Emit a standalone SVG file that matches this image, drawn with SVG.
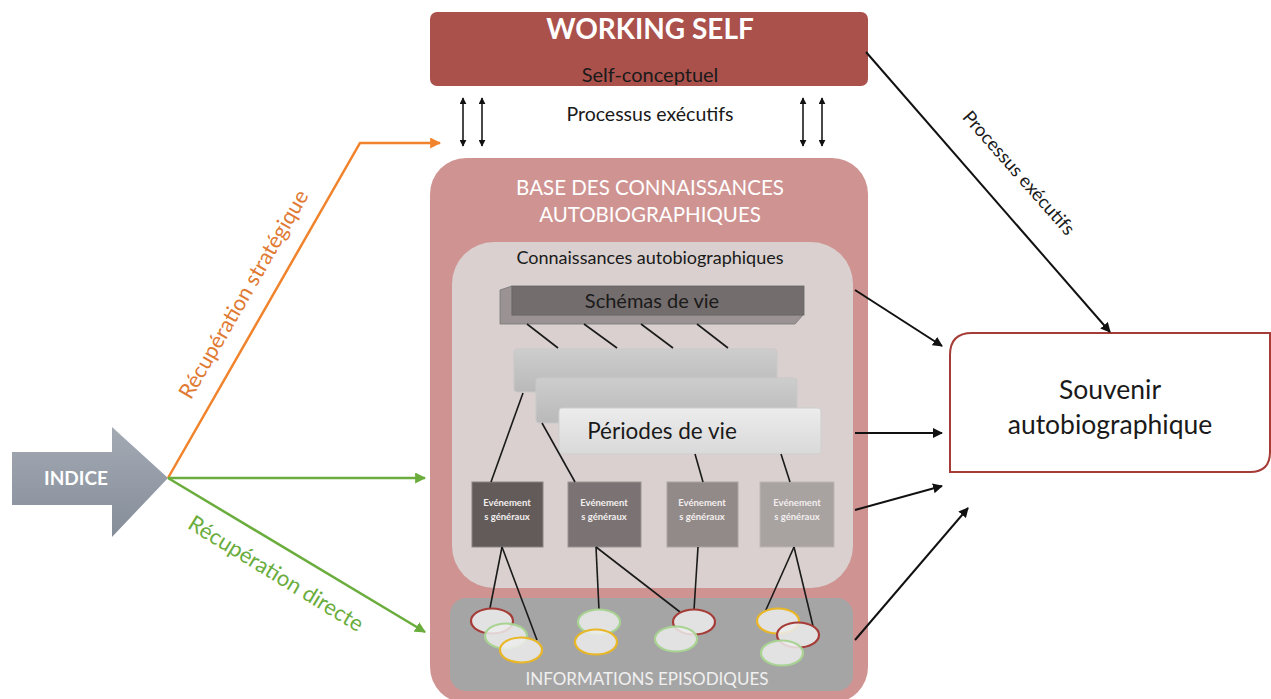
<svg xmlns="http://www.w3.org/2000/svg" width="1271" height="699" viewBox="0 0 1271 699">
<style>
text{font-family:Lato,"Open Sans","Liberation Sans",sans-serif}
.c{text-anchor:middle}
.w{fill:#ffffff}
.d{fill:#1a1a1a}
.ln{stroke:#1a1a1a;stroke-width:1.6;fill:none}
.blk{stroke:#111;stroke-width:2;fill:none}
.ev{font-size:9.5px;font-weight:bold;fill:#f2eeee;text-anchor:middle}
.el{fill:#ececec;fill-opacity:0.85;stroke-width:2.2}
.r{stroke:#a63c37}.g{stroke:#a8d392}.y{stroke:#e9b726}
</style>
<defs>
<marker id="ab" viewBox="0 0 10 10" refX="9" refY="5" markerWidth="10" markerHeight="10" markerUnits="userSpaceOnUse" orient="auto-start-reverse"><path d="M0,0 L10,5 L0,10 z" fill="#111"/></marker>
<marker id="as" viewBox="0 0 10 10" refX="9" refY="5" markerWidth="7" markerHeight="7" markerUnits="userSpaceOnUse" orient="auto-start-reverse"><path d="M0,0 L10,5 L0,10 z" fill="#111"/></marker>
<marker id="ao" viewBox="0 0 10 10" refX="9" refY="5" markerWidth="11" markerHeight="11" markerUnits="userSpaceOnUse" orient="auto"><path d="M0,0 L10,5 L0,10 z" fill="#f0832b"/></marker>
<marker id="ag" viewBox="0 0 10 10" refX="9" refY="5" markerWidth="11" markerHeight="11" markerUnits="userSpaceOnUse" orient="auto"><path d="M0,0 L10,5 L0,10 z" fill="#6aad3d"/></marker>
<linearGradient id="gi" x1="0" y1="0" x2="0" y2="1"><stop offset="0" stop-color="#a3aab4"/><stop offset="1" stop-color="#858d99"/></linearGradient>
<linearGradient id="gp" x1="0" y1="0" x2="0" y2="1"><stop offset="0" stop-color="#cdcdcd"/><stop offset="1" stop-color="#b9b9b9"/></linearGradient>
<linearGradient id="gp3" x1="0" y1="0" x2="0" y2="1"><stop offset="0" stop-color="#ececec"/><stop offset="1" stop-color="#d9d9d9"/></linearGradient>
</defs>

<g id="working-self">
<rect x="430" y="12" width="438" height="74" rx="7" fill="#aa514c"/>
<text x="650" y="39" class="c w" font-size="28" font-weight="bold">WORKING SELF</text>
<text x="650" y="82" class="c d" font-size="20">Self-conceptuel</text>
</g>

<g id="base">
<rect x="430" y="158" width="438" height="545" rx="36" fill="#cf9492"/>
<text x="650" y="195" class="c w" font-size="20.5">BASE DES CONNAISSANCES</text>
<text x="650" y="222" class="c w" font-size="20.5">AUTOBIOGRAPHIQUES</text>
</g>

<g id="connaissances">
<rect x="452" y="242" width="401" height="346" rx="42" fill="#d9d0cf"/>
<text x="650" y="264" class="c d" font-size="18">Connaissances autobiographiques</text>
</g>

<g id="schemas">
<polygon points="500,290 512,286 512,315 803,315 795,324 500,324" fill="#9b9393" stroke="#777" stroke-width="0.8"/>
<rect x="512" y="286" width="292" height="29" fill="#746d6d" stroke="#666" stroke-width="0.8"/>
<text x="652" y="308" class="c d" font-size="20">Schémas de vie</text>
</g>

<g id="periodes">
<rect x="514" y="349" width="263" height="43" rx="3" fill="url(#gp)" stroke="#c9c9c9"/>
<rect x="536" y="378" width="261" height="45" rx="3" fill="url(#gp)" stroke="#c9c9c9"/>
<rect x="559" y="408" width="262" height="46" rx="3" fill="url(#gp3)" stroke="#cfcfcf"/>
<text x="662" y="439" class="c d" font-size="22.5">Périodes de vie</text>
</g>

<g id="ev1"><rect x="472" y="482" width="71" height="65" fill="#625b5a" stroke="#8a8484"/><text x="507" y="506" class="ev">Evénement</text><text x="507" y="520" class="ev">s généraux</text></g>
<g id="ev2"><rect x="568" y="482" width="73" height="65" fill="#7b7373" stroke="#9a9494"/><text x="604" y="506" class="ev">Evénement</text><text x="604" y="520" class="ev">s généraux</text></g>
<g id="ev3"><rect x="667" y="482" width="71" height="65" fill="#928a89" stroke="#aaa4a3"/><text x="702" y="506" class="ev">Evénement</text><text x="702" y="520" class="ev">s généraux</text></g>
<g id="ev4"><rect x="760" y="482" width="74" height="65" fill="#a8a2a1" stroke="#bcb6b5"/><text x="797" y="506" class="ev">Evénement</text><text x="797" y="520" class="ev">s généraux</text></g>

<g id="episodiques">
<rect x="450" y="598" width="403" height="93" rx="16" fill="#a6a5a5"/>
<text x="647" y="685" class="c" font-size="17" fill="#f0f0f0">INFORMATIONS EPISODIQUES</text>
</g>

<g id="hier-lines">
<line class="ln" x1="527" y1="324" x2="558" y2="348"/>
<line class="ln" x1="584" y1="324" x2="617" y2="348"/>
<line class="ln" x1="641" y1="324" x2="673" y2="348"/>
<line class="ln" x1="697" y1="324" x2="728" y2="348"/>
<line class="ln" x1="523" y1="393" x2="491" y2="482"/>
<line class="ln" x1="542" y1="423" x2="575" y2="482"/>
<line class="ln" x1="695" y1="454" x2="703" y2="482"/>
<line class="ln" x1="781" y1="454" x2="790" y2="482"/>
<line class="ln" x1="502" y1="547" x2="490" y2="608"/>
<line class="ln" x1="502" y1="547" x2="537" y2="640"/>
<line class="ln" x1="596" y1="547" x2="599" y2="610"/>
<line class="ln" x1="596" y1="547" x2="680" y2="612"/>
<line class="ln" x1="698" y1="547" x2="694" y2="610"/>
<line class="ln" x1="794" y1="547" x2="765" y2="612"/>
<line class="ln" x1="794" y1="547" x2="813" y2="626"/>
</g>

<g id="ellipses">
<ellipse class="el r" cx="492" cy="621" rx="21" ry="12.5"/>
<ellipse class="el g" cx="506" cy="636" rx="21" ry="12.5"/>
<ellipse class="el y" cx="521" cy="650" rx="21" ry="12.5"/>
<ellipse class="el g" cx="599" cy="622" rx="21" ry="12.5"/>
<ellipse class="el y" cx="596" cy="642" rx="21" ry="12.5"/>
<ellipse class="el r" cx="694" cy="622" rx="21" ry="12.5"/>
<ellipse class="el g" cx="676" cy="639" rx="21" ry="12.5"/>
<ellipse class="el y" cx="778" cy="621" rx="21" ry="12.5"/>
<ellipse class="el r" cx="798" cy="635" rx="21" ry="12.5"/>
<ellipse class="el g" cx="782" cy="653" rx="21" ry="12.5"/>
</g>

<g id="indice">
<polygon points="12,452 112,452 112,427 168,478 112,537 112,505 12,505" fill="url(#gi)"/>
<text x="76" y="485" class="c w" font-size="19" font-weight="bold">INDICE</text>
</g>

<g id="souvenir">
<path d="M972,333 L1270,333 L1270,452 Q1270,472 1250,472 L950,472 L950,355 Q950,333 972,333 Z" fill="#ffffff" stroke="#a63c37" stroke-width="2"/>
<text x="1110" y="399" class="c d" font-size="26.5">Souvenir</text>
<text x="1110" y="434" class="c d" font-size="26.5">autobiographique</text>
</g>

<g id="connectors">
<line class="ln" x1="463" y1="98" x2="463" y2="146" marker-start="url(#as)" marker-end="url(#as)" stroke-width="1.3"/>
<line class="ln" x1="482" y1="98" x2="482" y2="146" marker-start="url(#as)" marker-end="url(#as)" stroke-width="1.3"/>
<line class="ln" x1="803" y1="98" x2="803" y2="146" marker-start="url(#as)" marker-end="url(#as)" stroke-width="1.3"/>
<line class="ln" x1="822" y1="98" x2="822" y2="146" marker-start="url(#as)" marker-end="url(#as)" stroke-width="1.3"/>
<polyline points="168,478 360,143 440,143" fill="none" stroke="#f0832b" stroke-width="2.5" marker-end="url(#ao)"/>
<line x1="168" y1="478" x2="425" y2="478" stroke="#6aad3d" stroke-width="2.5" marker-end="url(#ag)"/>
<line x1="168" y1="478" x2="425" y2="632" stroke="#6aad3d" stroke-width="2.5" marker-end="url(#ag)"/>
<line class="blk" x1="866" y1="52" x2="1110" y2="332" marker-end="url(#ab)"/>
<line class="blk" x1="855" y1="290" x2="942" y2="346" marker-end="url(#ab)"/>
<line class="blk" x1="855" y1="433" x2="942" y2="433" marker-end="url(#ab)"/>
<line class="blk" x1="855" y1="510" x2="942" y2="486" marker-end="url(#ab)"/>
<line class="blk" x1="855" y1="640" x2="968" y2="508" marker-end="url(#ab)"/>
</g>

<g id="labels">
<text x="650" y="121" class="c d" font-size="19.5">Processus exécutifs</text>
<text transform="translate(250,298) rotate(-60)" class="c" font-size="21.5" fill="#e07a32">Récupération stratégique</text>
<text transform="translate(272,580) rotate(31.5)" class="c" font-size="22" fill="#6aad3d">Récupération directe</text>
<text transform="translate(1014,177) rotate(48.5)" class="c d" font-size="18.5">Processus exécutifs</text>
</g>
</svg>
